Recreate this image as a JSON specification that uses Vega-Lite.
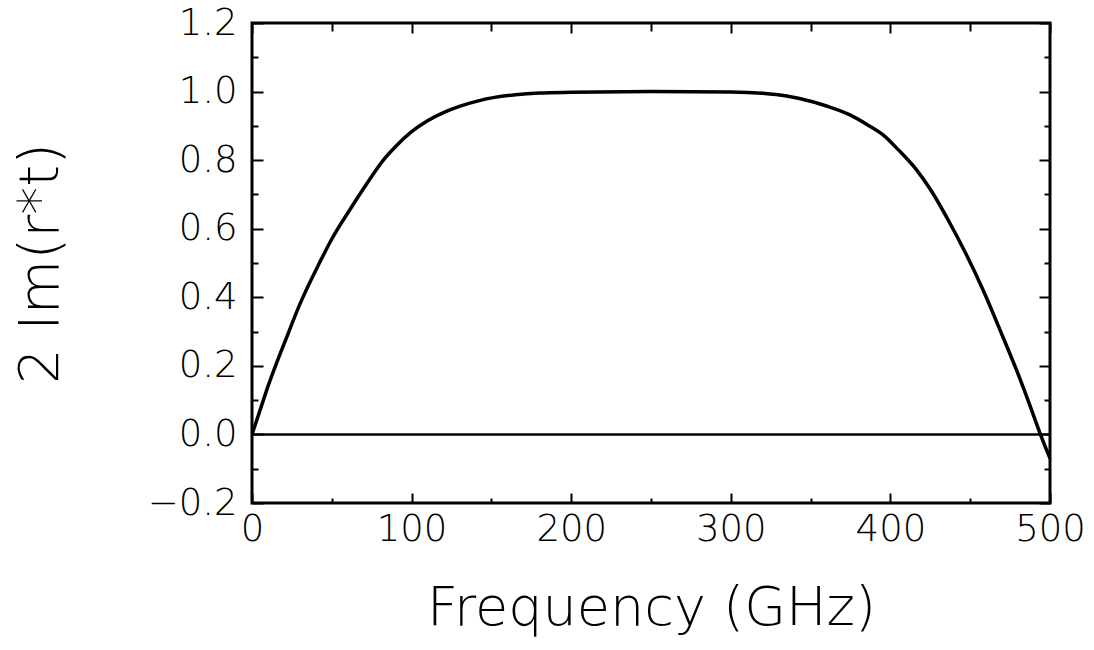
{
  "$schema": "https://vega.github.io/schema/vega-lite/v6.json",
  "autosize": "none",
  "width": 798,
  "height": 480,
  "padding": {"left": 252, "top": 23, "right": 44, "bottom": 147},
  "background": "white",
  "config": {
    "view": {"stroke": "black", "strokeWidth": 3},
    "axis": {"labelFont": "DejaVu Sans", "titleFont": "DejaVu Sans", "labelColor": "black", "titleColor": "black", "tickColor": "black", "domain": false, "grid": false, "titleFontWeight": "normal"}
  },
  "datasets": {
    "curve": [
      {"f": 0, "v": 0}, {"f": 5, "v": 0.07}, {"f": 10, "v": 0.14}, {"f": 22.7, "v": 0.295},
      {"f": 30, "v": 0.38}, {"f": 41.6, "v": 0.494}, {"f": 50, "v": 0.57}, {"f": 62.5, "v": 0.664},
      {"f": 70, "v": 0.718}, {"f": 83.3, "v": 0.806}, {"f": 90, "v": 0.84}, {"f": 100, "v": 0.883},
      {"f": 110, "v": 0.915}, {"f": 121, "v": 0.941}, {"f": 130, "v": 0.957}, {"f": 141.8, "v": 0.973},
      {"f": 152, "v": 0.983}, {"f": 165, "v": 0.991}, {"f": 180, "v": 0.996}, {"f": 200, "v": 0.998},
      {"f": 250, "v": 1.0}, {"f": 300, "v": 0.999}, {"f": 320, "v": 0.995}, {"f": 335, "v": 0.987},
      {"f": 343, "v": 0.98}, {"f": 360, "v": 0.958}, {"f": 374.7, "v": 0.932}, {"f": 385, "v": 0.905},
      {"f": 395.6, "v": 0.873}, {"f": 405, "v": 0.83}, {"f": 416.5, "v": 0.771}, {"f": 425, "v": 0.715},
      {"f": 437.3, "v": 0.616}, {"f": 447, "v": 0.53}, {"f": 458.2, "v": 0.42}, {"f": 470, "v": 0.29},
      {"f": 479, "v": 0.188}, {"f": 487, "v": 0.09}, {"f": 493.7, "v": 0.004}, {"f": 500, "v": -0.07}
    ],
    "zero": [{"f": 0, "v": 0}, {"f": 500, "v": 0}]
  },
  "resolve": {"axis": {"x": "independent", "y": "independent"}},
  "layer": [
    {
      "data": {"name": "curve"},
      "mark": {"type": "line", "color": "black", "strokeWidth": 3.5, "interpolate": "monotone", "clip": true},
      "encoding": {
        "x": {"field": "f", "type": "quantitative", "scale": {"domain": [0, 500], "nice": false, "zero": false},
          "axis": {"values": [0, 100, 200, 300, 400, 500], "ticks": false, "labelPadding": 8, "labelFontSize": 37, "labelFontWeight": 300, "labelFlush": false, "title": "Frequency (GHz)", "titleFontSize": 54, "titleFontWeight": 300, "titlePadding": 34}},
        "y": {"field": "v", "type": "quantitative", "scale": {"domain": [-0.2, 1.2], "nice": false, "zero": false},
          "axis": {"values": [-0.2, 0, 0.2, 0.4, 0.6, 0.8, 1.0, 1.2], "format": ".1f", "ticks": false, "labelPadding": 15, "labelFontSize": 37, "labelFontWeight": 300, "labelFlush": false, "title": "2 Im(r*t)", "titleFontSize": 56, "titleFontWeight": 300, "titlePadding": 78}}
      }
    },
    {
      "data": {"name": "zero"},
      "mark": {"type": "line", "color": "black", "strokeWidth": 2.5},
      "encoding": {
        "x": {"field": "f", "type": "quantitative", "axis": {"orient": "bottom", "values": [0, 100, 200, 300, 400, 500], "tickSize": -10, "tickWidth": 2, "labels": false, "title": null}},
        "y": {"field": "v", "type": "quantitative", "axis": {"orient": "left", "values": [-0.2, 0, 0.2, 0.4, 0.6, 0.8, 1.0, 1.2], "tickSize": -11, "tickWidth": 2, "labels": false, "title": null}}
      }
    },
    {
      "data": {"name": "zero"},
      "mark": {"type": "line", "opacity": 0},
      "encoding": {
        "x": {"field": "f", "type": "quantitative", "axis": {"orient": "bottom", "values": [50, 150, 250, 350, 450], "tickSize": -5, "tickWidth": 2, "labels": false, "title": null}},
        "y": {"field": "v", "type": "quantitative", "axis": {"orient": "left", "values": [-0.1, 0.1, 0.3, 0.5, 0.7, 0.9, 1.1], "tickSize": -6, "tickWidth": 2, "labels": false, "title": null}}
      }
    },
    {
      "data": {"name": "zero"},
      "mark": {"type": "line", "opacity": 0},
      "encoding": {
        "x": {"field": "f", "type": "quantitative", "axis": {"orient": "top", "values": [0, 100, 200, 300, 400, 500], "tickSize": -10, "tickWidth": 2, "labels": false, "title": null}},
        "y": {"field": "v", "type": "quantitative", "axis": {"orient": "right", "values": [-0.2, 0, 0.2, 0.4, 0.6, 0.8, 1.0, 1.2], "tickSize": -11, "tickWidth": 2, "labels": false, "title": null}}
      }
    },
    {
      "data": {"name": "zero"},
      "mark": {"type": "line", "opacity": 0},
      "encoding": {
        "x": {"field": "f", "type": "quantitative", "axis": {"orient": "top", "values": [50, 150, 250, 350, 450], "tickSize": -8, "tickWidth": 2, "labels": false, "title": null}},
        "y": {"field": "v", "type": "quantitative", "axis": {"orient": "right", "values": [-0.1, 0.1, 0.3, 0.5, 0.7, 0.9, 1.1], "tickSize": -6, "tickWidth": 2, "labels": false, "title": null}}
      }
    }
  ]
}
